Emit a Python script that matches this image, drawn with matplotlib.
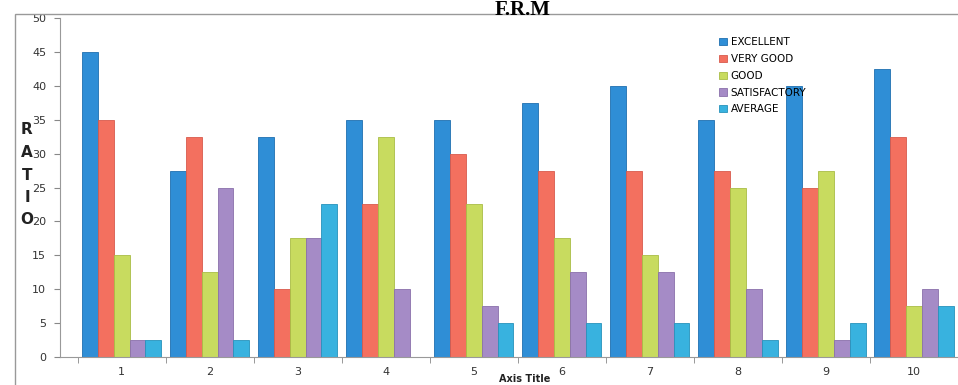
import numpy as np
import matplotlib.pyplot as plt
from matplotlib.patches import Rectangle

# Data (percent of respondents)
groups = ['1', '2', '3', '4', '5', '6', '7', '8', '9', '10']
excellent = [45, 27.5, 32.5, 35, 35, 37.5, 40, 35, 40, 42.5]
very_good = [35, 32.5, 10, 22.5, 30, 27.5, 27.5, 27.5, 25, 32.5]
good = [15, 12.5, 17.5, 32.5, 22.5, 17.5, 15, 25, 27.5, 7.5]
satisfactory = [2.5, 25, 17.5, 10, 7.5, 12.5, 12.5, 10, 2.5, 10]
average = [2.5, 2.5, 22.5, 0, 5, 5, 5, 2.5, 5, 7.5]

series_names = ['EXCELLENT', 'VERY GOOD', 'GOOD', 'SATISFACTORY', 'AVERAGE']
colors = ['#2f8ed6', '#f3705f', '#c8db5f', '#a58bc6', '#38b2df']
edges = ['#1f6fb0', '#d85a4c', '#a9bd45', '#8a70ab', '#2792bb']

fig = plt.figure(figsize=(9.58, 3.85), dpi=100)
ax = fig.add_axes([60 / 958, 28 / 385, 898 / 958, 339 / 385])

x = np.arange(len(groups))
width = 0.18
all_series = [excellent, very_good, good, satisfactory, average]
for i, vals in enumerate(all_series):
    ax.bar(x + (i - 2) * width, vals, width, color=colors[i],
           edgecolor=edges[i], linewidth=0.6, label=series_names[i])

ax.set_ylim(0, 50)
ax.set_yticks(range(0, 51, 5))
ax.set_xlim(-0.7, 9.5)
ax.set_xticks(x)
ax.set_xticklabels(groups)
ax.set_xticks(np.arange(-0.5, 10, 1), minor=True)
ax.tick_params(axis='x', which='major', length=0, pad=7)
ax.tick_params(axis='x', which='minor', length=4, color='#888888')
ax.tick_params(axis='y', length=4, color='#888888', pad=6)
for lab in ax.get_xticklabels() + ax.get_yticklabels():
    lab.set_fontsize(8)
    lab.set_color('#333333')

for s in ['top', 'right']:
    ax.spines[s].set_visible(False)
for s in ['left', 'bottom']:
    ax.spines[s].set_color('#999999')
    ax.spines[s].set_linewidth(0.8)

# stacked y axis label
for k, ch in enumerate('RATIO'):
    fig.text(27 / 958, 1 - (130 + k * 22.5) / 385, ch, fontsize=11,
             fontweight='bold', ha='center', va='center', color='#222222')

fig.text(525 / 958, 1 - 379 / 385, 'Axis Title', fontsize=7,
         fontweight='bold', ha='center', va='center', color='#222222')

fig.text(523 / 958, 1.0, 'F.R.M', fontsize=15, fontweight='bold',
         family='Liberation Serif', ha='center', va='top')

leg = ax.legend(loc='upper left', bbox_to_anchor=(650 / 898, 1 - 10 / 339),
                frameon=False, fontsize=7.5, handlelength=0.7,
                handleheight=0.7, handletextpad=0.4, labelspacing=0.65)

# page border from the scan
fig.patches.append(Rectangle((15 / 958, -0.05), 1.0, 1 - 14 / 385 + 0.05,
                             transform=fig.transFigure, fill=False,
                             edgecolor='#999999', linewidth=1.0))

fig.savefig('out.png', dpi=100)
